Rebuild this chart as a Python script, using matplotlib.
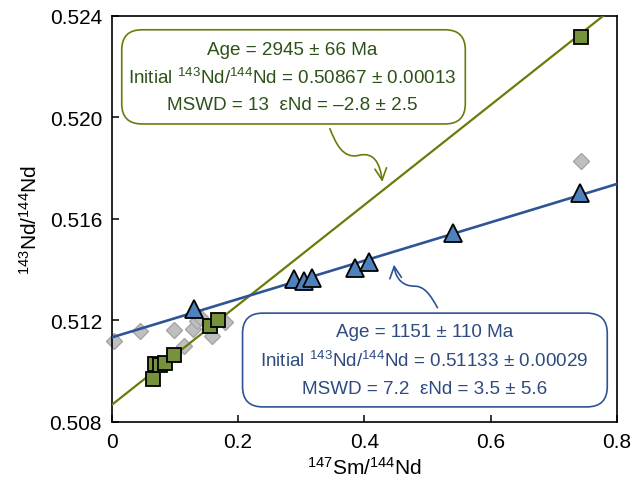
import matplotlib
matplotlib.use("Agg")
import matplotlib.pyplot as plt
from matplotlib.patches import FancyBboxPatch, FancyArrowPatch
from matplotlib.path import Path
from matplotlib.ticker import FixedLocator, FixedFormatter

plt.rcParams["font.family"] = ["Liberation Sans", "DejaVu Sans"]
plt.rcParams["mathtext.fontset"] = "custom"
plt.rcParams["mathtext.rm"] = "Liberation Sans"
plt.rcParams["mathtext.it"] = "Liberation Sans:italic"
plt.rcParams["mathtext.bf"] = "Liberation Sans:bold"

# green squares (older isochron)
sq_x = [0.065, 0.068, 0.076, 0.084, 0.098, 0.156, 0.168, 0.744]
sq_y = [0.50971, 0.51027, 0.51024, 0.51031, 0.51064, 0.51178, 0.51200, 0.52318]

# blue triangles (younger isochron)
tri_x = [0.130, 0.288, 0.304, 0.317, 0.385, 0.408, 0.541, 0.742]
tri_y = [0.51246, 0.51365, 0.51354, 0.51369, 0.51408, 0.51431, 0.51543, 0.51702]

# grey diamonds (not used in regression)
dia_x = [0.004, 0.045, 0.099, 0.114, 0.128, 0.135, 0.140, 0.159, 0.180, 0.743]
dia_y = [0.51119, 0.51158, 0.51162, 0.51099, 0.51165, 0.51197, 0.51212, 0.51138, 0.51193, 0.51829]

# isochron fits: intercept, slope
green_fit = (0.50867, 0.0197)
blue_fit = (0.51133, 0.00756)

x_ticks = [0, 0.2, 0.4, 0.6, 0.8]
x_tick_labels = ["0", "0.2", "0.4", "0.6", "0.8"]
y_ticks = [0.508, 0.512, 0.516, 0.520, 0.524]

green_lines = [
    "Age = 2945 ± 66 Ma",
    r"Initial $^{143}$Nd/$^{144}$Nd = 0.50867 ± 0.00013",
    "MSWD = 13  εNd = –2.8 ± 2.5",
]
blue_lines = [
    "Age = 1151 ± 110 Ma",
    r"Initial $^{143}$Nd/$^{144}$Nd = 0.51133 ± 0.00029",
    "MSWD = 7.2  εNd = 3.5 ± 5.6",
]

GREEN_LINE = "#6b7b0b"
GREEN_FILL = "#76923c"
GREEN_TEXT = "#2d5218"
BLUE_LINE = "#2f5496"
BLUE_FILL = "#4f81bd"
BLUE_TEXT = "#2e4a80"


def draw_box(ax, x0, y0, x1, y1, color, lines, xc, ys, text_color):
    aspect = 506 / 406
    box = FancyBboxPatch(
        (x0, y0), x1 - x0, y1 - y0,
        boxstyle="round,pad=0,rounding_size=0.04",
        mutation_aspect=aspect,
        transform=ax.transAxes,
        facecolor="white", edgecolor=color, linewidth=1.2, zorder=6,
    )
    ax.add_patch(box)
    for line, y in zip(lines, ys):
        ax.text(xc, y, line, transform=ax.transAxes, ha="center", va="center",
                fontsize=13.6, color=text_color, zorder=7)


def draw_wavy_arrow(ax, pts, color):
    codes = [Path.MOVETO] + [Path.CURVE4] * (len(pts) - 1)
    arrow = FancyArrowPatch(
        path=Path(pts, codes),
        arrowstyle="->,head_length=0.6,head_width=0.3",
        mutation_scale=14, color=color, linewidth=1.2, zorder=5,
    )
    ax.add_patch(arrow)


def main():
    fig = plt.figure(figsize=(6.33, 4.85), dpi=100)
    ax = fig.add_axes([0.1765, 0.128, 0.798, 0.837])

    ax.plot(dia_x, dia_y, linestyle="none", marker="D", markersize=8.5,
            markerfacecolor="#bfbfbf", markeredgecolor="#a5a5a5",
            markeredgewidth=1.0, zorder=2, clip_on=False)

    xs = [0, 0.8]
    ax.plot(xs, [green_fit[0] + green_fit[1] * x for x in xs],
            color=GREEN_LINE, linewidth=1.6, zorder=3)
    ax.plot(xs, [blue_fit[0] + blue_fit[1] * x for x in xs],
            color=BLUE_LINE, linewidth=1.9, zorder=3)

    ax.plot(sq_x, sq_y, linestyle="none", marker="s", markersize=10.5,
            markerfacecolor=GREEN_FILL, markeredgecolor="black",
            markeredgewidth=1.3, zorder=4, clip_on=False)
    ax.plot(tri_x, tri_y, linestyle="none", marker="^", markersize=12.5,
            markerfacecolor=BLUE_FILL, markeredgecolor="black",
            markeredgewidth=1.3, zorder=4, clip_on=False)

    draw_box(ax, 0.0198, 0.734, 0.700, 0.966, GREEN_LINE, green_lines,
             0.358, [0.918, 0.849, 0.783], GREEN_TEXT)
    draw_box(ax, 0.259, 0.037, 0.981, 0.268, BLUE_LINE, blue_lines,
             0.619, [0.222, 0.153, 0.082], BLUE_TEXT)

    draw_wavy_arrow(ax, [(0.3454, 0.51956), (0.355, 0.5190), (0.365, 0.51835),
                         (0.392, 0.51851), (0.415, 0.51865), (0.425, 0.5182),
                         (0.4286, 0.51746)], GREEN_LINE)
    draw_wavy_arrow(ax, [(0.5159, 0.51250), (0.505, 0.5130), (0.495, 0.51335),
                         (0.480, 0.51335), (0.462, 0.51335), (0.450, 0.5136),
                         (0.4470, 0.51420)], BLUE_LINE)

    ax.set_xlim(0, 0.8)
    ax.set_ylim(0.508, 0.524)
    ax.xaxis.set_major_locator(FixedLocator(x_ticks))
    ax.xaxis.set_major_formatter(FixedFormatter(x_tick_labels))
    ax.set_yticks(y_ticks)
    ax.set_yticklabels([f"{v:.3f}" for v in y_ticks])
    ax.tick_params(direction="in", length=5, width=1.1, labelsize=15, pad=7)
    for spine in ax.spines.values():
        spine.set_linewidth(1.2)

    ax.set_xlabel(r"$^{147}$Sm/$^{144}$Nd", fontsize=15, labelpad=4)
    ax.set_ylabel(r"$^{143}$Nd/$^{144}$Nd", fontsize=15, labelpad=6)

    fig.savefig("out.png", dpi=100)
    plt.close(fig)


if __name__ == "__main__":
    main()
